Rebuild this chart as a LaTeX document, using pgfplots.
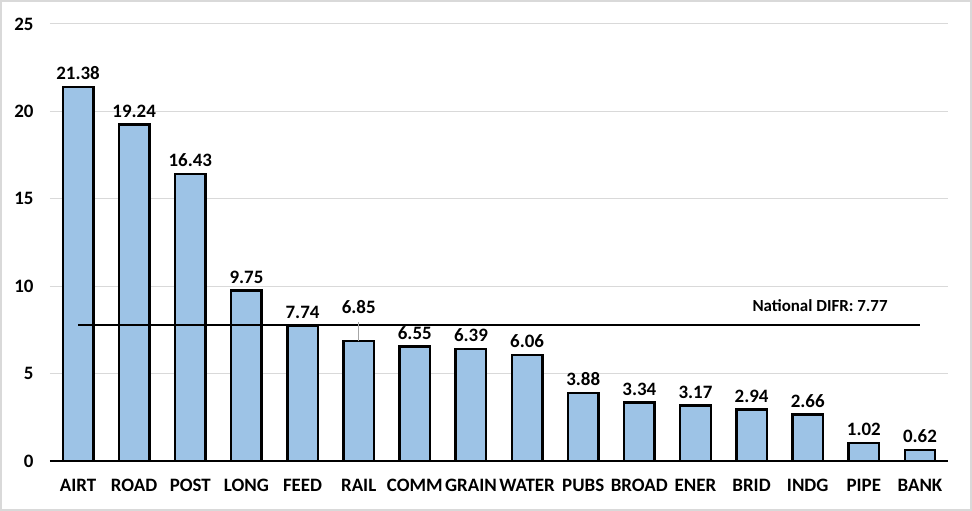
\documentclass[border=0pt]{standalone}
\usepackage{pgfplots}
\pgfplotsset{compat=1.18}
\usepackage{fontspec}
\setmainfont{Carlito}
\definecolor{barblue}{RGB}{157,195,230}
\definecolor{gridgray}{RGB}{217,217,217}
\begin{document}
\begin{tikzpicture}[x=1bp,y=1bp]
\path[use as bounding box] (-50,-50) rectangle (922,461);
\draw[gridgray, line width=1.5bp] (-49.2,-49.2) rectangle (921.2,460.2);
\begin{axis}[
  at={(0,0)}, anchor=south west,
  scale only axis, width=898bp, height=437bp,
  xmin=-0.5, xmax=15.5, ymin=0, ymax=25,
  xtick={0,...,15},
  xticklabels={AIRT,ROAD,POST,LONG,FEED,RAIL,COMM,GRAIN,WATER,PUBS,BROAD,ENER,BRID,INDG,PIPE,BANK},
  ytick={0,5,...,25},
  ymajorgrids, grid style={gridgray, line width=1bp},
  axis lines*=left,
  y axis line style={draw=none},
  x axis line style={black, line width=2bp, -},
  major tick length=0pt,
  tick style={draw=none},
  /pgf/number format/assume math mode=true,
  ticklabel style={font=\fontsize{19}{22}\selectfont\bfseries},
  yticklabel style={xshift=-13bp},
  xticklabel style={yshift=-15bp},
  clip=false,
]
\addplot[ybar, bar width=30.5bp, fill=barblue, draw=black, line width=2.4bp] coordinates {
(0,21.38) (1,19.24) (2,16.43) (3,9.75) (4,7.74) (5,6.85) (6,6.55) (7,6.39)
(8,6.06) (9,3.88) (10,3.34) (11,3.17) (12,2.94) (13,2.66) (14,1.02) (15,0.62)};
\addplot[black, line width=2bp] coordinates {(0,7.77) (15,7.77)};
\addplot[draw=none, mark=none, nodes near coords, point meta=explicit symbolic,
  nodes near coords style={font=\fontsize{19}{22}\selectfont\bfseries, anchor=south, inner sep=3bp, yshift=4bp}]
  coordinates {
(0,21.38)[21.38] (1,19.24)[19.24] (2,16.43)[16.43] (3,9.75)[9.75] (4,7.74)[7.74]
(5,8.0)[6.85] (6,6.55)[6.55] (7,6.39)[6.39] (8,6.06)[6.06] (9,3.88)[3.88]
(10,3.34)[3.34] (11,3.17)[3.17] (12,2.94)[2.94] (13,2.66)[2.66] (14,1.02)[1.02] (15,0.62)[0.62]};
\draw[gray!70, line width=1bp] (axis cs:5,6.85) -- (axis cs:5,7.95);
\node[font=\fontsize{17}{20}\selectfont\bfseries] at (axis cs:13.22,8.87) {National DIFR: 7.77};
\end{axis}
\end{tikzpicture}
\end{document}
